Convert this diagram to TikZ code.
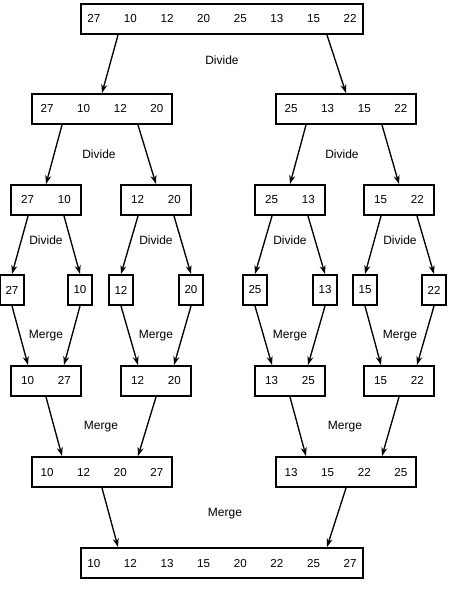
\documentclass[tikz,border=0pt]{standalone}
\usepackage{fontspec}
\setmainfont{Liberation Sans}
\usetikzlibrary{arrows.meta}
\usetikzlibrary{calc}
\newcommand{\gap}{\hspace{17.8pt}}
\tikzset{
    box/.style={draw=black, line width=1.5pt, minimum height=22.5pt, inner sep=0pt, font=\fontsize{8.7}{10}\selectfont},
    wide/.style={box, minimum width=211.5pt},
    half/.style={box, minimum width=105pt},
    pair/.style={box, minimum width=52.5pt},
    single/.style={box, minimum width=18pt},
    tag/.style={font=\fontsize{9}{10}\selectfont},
    link/.style={-{Stealth[length=6.5pt,width=4.5pt]}, line width=1pt},
}

\begin{document}
\begin{tikzpicture}[x=0.75pt, y=-0.75pt]
    \useasboundingbox (0,0) rectangle (450,593);
    % unsorted list
    \node [wide] (all) at (222,19) {27\gap 10\gap 12\gap 20\gap 25\gap 13\gap 15\gap 22};
    % divide
    \node [half] (left)  at (102,109) {27\gap 10\gap 12\gap 20};
    \node [half] (right) at (346,109) {25\gap 13\gap 15\gap 22};
    \node [tag] (d1) at (222,60) {Divide};
    \draw [link] ($(all.south)+(-104,0)$) -- (left.north);
    \draw [link] ($(all.south)+(105,0)$) -- (right.north);
    % divide
    \node [pair] (ll) at (46,200)  {27\gap 10};
    \node [pair] (lr) at (156,200) {12\gap 20};
    \node [pair] (rl) at (290,200) {25\gap 13};
    \node [pair] (rr) at (399,200) {15\gap 22};
    \node [tag] (d2) at (99,154)  {Divide};
    \node [tag] (d3) at (342,154) {Divide};
    \draw [link] ($(left.south)+(-40,0)$) -- (ll.north);
    \draw [link] ($(left.south)+(36,0)$) -- (lr.north);
    \draw [link] ($(right.south)+(-40,0)$) -- (rl.north);
    \draw [link] ($(right.south)+(36,0)$) -- (rr.north);
    % divide
    \node [single] (s1) at (12,290)  {27};
    \node [single] (s2) at (80,290)  {10};
    \node [single] (s3) at (121,290) {12};
    \node [single] (s4) at (191,290) {20};
    \node [single] (s5) at (255,290) {25};
    \node [single] (s6) at (325,290) {13};
    \node [single] (s7) at (365,290) {15};
    \node [single] (s8) at (434,290) {22};
    \node [tag] (d4) at (46,240)  {Divide};
    \node [tag] (d5) at (156,240) {Divide};
    \node [tag] (d6) at (290,240) {Divide};
    \node [tag] (d7) at (400,240) {Divide};
    \draw [link] ($(ll.south)+(-18,0)$) -- (s1.north);
    \draw [link] ($(ll.south)+(18,0)$) -- (s2.north);
    \draw [link] ($(lr.south)+(-18,0)$) -- (s3.north);
    \draw [link] ($(lr.south)+(18,0)$) -- (s4.north);
    \draw [link] ($(rl.south)+(-18,0)$) -- (s5.north);
    \draw [link] ($(rl.south)+(18,0)$) -- (s6.north);
    \draw [link] ($(rr.south)+(-18,0)$) -- (s7.north);
    \draw [link] ($(rr.south)+(18,0)$) -- (s8.north);
    % merge
    \node [pair] (m1) at (46,381)  {10\gap 27};
    \node [pair] (m2) at (156,381) {12\gap 20};
    \node [pair] (m3) at (290,381) {13\gap 25};
    \node [pair] (m4) at (399,381) {15\gap 22};
    \node [tag] (g1) at (46,336)  {Merge};
    \node [tag] (g2) at (156,336) {Merge};
    \node [tag] (g3) at (290,336) {Merge};
    \node [tag] (g4) at (400,336) {Merge};
    \draw [link] (s1.south) -- ($(m1.north)+(-18,0)$);
    \draw [link] (s2.south) -- ($(m1.north)+(18,0)$);
    \draw [link] (s3.south) -- ($(m2.north)+(-18,0)$);
    \draw [link] (s4.south) -- ($(m2.north)+(18,0)$);
    \draw [link] (s5.south) -- ($(m3.north)+(-18,0)$);
    \draw [link] (s6.south) -- ($(m3.north)+(18,0)$);
    \draw [link] (s7.south) -- ($(m4.north)+(-18,0)$);
    \draw [link] (s8.south) -- ($(m4.north)+(18,0)$);
    % merge
    \node [half] (mleft)  at (102,472) {10\gap 12\gap 20\gap 27};
    \node [half] (mright) at (346,472) {13\gap 15\gap 22\gap 25};
    \node [tag] (g5) at (101,427) {Merge};
    \node [tag] (g6) at (345,427) {Merge};
    \draw [link] (m1.south) -- ($(mleft.north)+(-40,0)$);
    \draw [link] (m2.south) -- ($(mleft.north)+(36,0)$);
    \draw [link] (m3.south) -- ($(mright.north)+(-40,0)$);
    \draw [link] (m4.south) -- ($(mright.north)+(36,0)$);
    % sorted list
    \node [wide] (sorted) at (222,563) {10\gap 12\gap 13\gap 15\gap 20\gap 22\gap 25\gap 27};
    \node [tag] (g7) at (225,514) {Merge};
    \draw [link] (mleft.south) -- ($(sorted.north)+(-104,0)$);
    \draw [link] (mright.south) -- ($(sorted.north)+(105,0)$);
\end{tikzpicture}
\end{document}
